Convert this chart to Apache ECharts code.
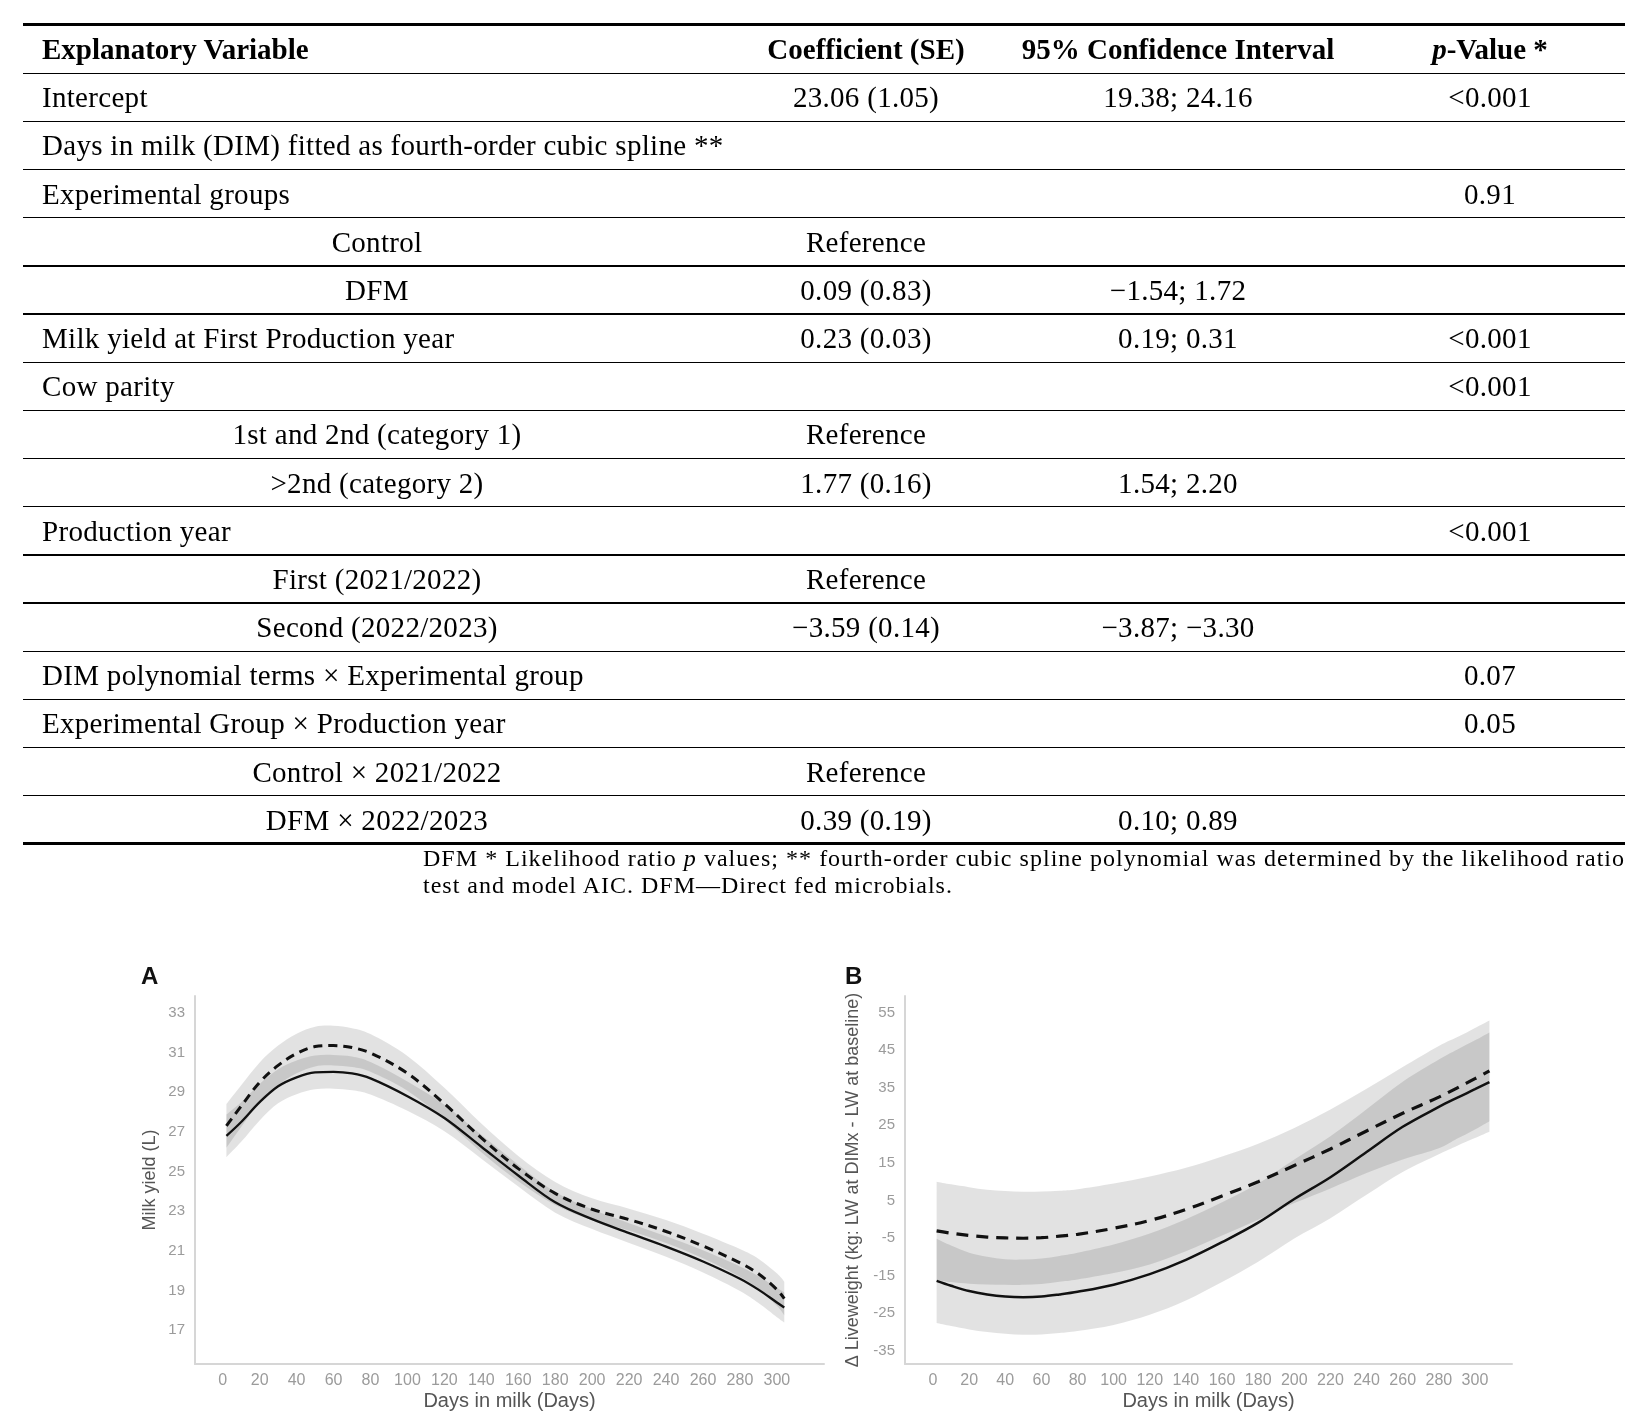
<!DOCTYPE html>
<html>
<head>
<meta charset="utf-8">
<title>Milk yield and liveweight</title>
<style>
  html, body { margin: 0; padding: 0; background: #fff; }
  body { width: 1644px; height: 1422px; position: relative; overflow: hidden; }
  #chart { position: absolute; left: 0; top: 0; width: 1644px; height: 1422px; }
  #table { position: absolute; left: 0; top: 0; width: 1644px; height: 900px; z-index: 2;
           font-family: "Liberation Serif", "Times New Roman", serif; font-size: 29px; color: #000; }
  .rule { position: absolute; left: 23px; width: 1602px; background: #000; }
  .cell { position: absolute; white-space: nowrap; line-height: 48px; height: 48px; letter-spacing: 0.3px; }
  .c { transform: translateX(-50%); }
  .hd { font-weight: bold; letter-spacing: 0; }
  .note { position: absolute; left: 423px; width: 1202px; font-size: 24px; line-height: 27px;
          letter-spacing: 1px; white-space: nowrap; }
  .note.j { text-align: justify; text-align-last: justify; white-space: normal; }
</style>
</head>
<body>
<div id="chart"></div>
<div id="table"></div>
<script src="https://cdn.jsdelivr.net/npm/echarts/dist/echarts.min.js"></script>
<script>
// ---- table text ----
var headers = ['Explanatory Variable', 'Coefficient (SE)', '95% Confidence Interval', '<i>p</i>-Value *'];
// [label, sub-row?, coefficient, confidence interval, p]
var tableRows = [
  ['Intercept', 0, '23.06 (1.05)', '19.38; 24.16', '<0.001'],
  ['Days in milk (DIM) fitted as fourth-order cubic spline **', 0, '', '', ''],
  ['Experimental groups', 0, '', '', '0.91'],
  ['Control', 1, 'Reference', '', ''],
  ['DFM', 1, '0.09 (0.83)', '\u22121.54; 1.72', ''],
  ['Milk yield at First Production year', 0, '0.23 (0.03)', '0.19; 0.31', '<0.001'],
  ['Cow parity', 0, '', '', '<0.001'],
  ['1st and 2nd (category 1)', 1, 'Reference', '', ''],
  ['>2nd (category 2)', 1, '1.77 (0.16)', '1.54; 2.20', ''],
  ['Production year', 0, '', '', '<0.001'],
  ['First (2021/2022)', 1, 'Reference', '', ''],
  ['Second (2022/2023)', 1, '\u22123.59 (0.14)', '\u22123.87; \u22123.30', ''],
  ['DIM polynomial terms \u00d7 Experimental group', 0, '', '', '0.07'],
  ['Experimental Group \u00d7 Production year', 0, '', '', '0.05'],
  ['Control \u00d7 2021/2022', 1, 'Reference', '', ''],
  ['DFM \u00d7 2022/2023', 1, '0.39 (0.19)', '0.10; 0.89', '']
];
var noteLine1 = 'DFM * Likelihood ratio <i>p</i> values; ** fourth-order cubic spline polynomial was determined by the likelihood ratio';
var noteLine2 = 'test and model AIC. DFM\u2014Direct fed microbials.';

// ---- chart A: milk yield ----
var daysA = [2, 10, 20, 30, 40, 50, 60, 70, 80, 100, 120, 140, 160, 180, 200, 220, 240, 260, 280, 290, 300, 304];
var controlA = [26.8, 27.5, 28.5, 29.3, 29.75, 30.0, 30.03, 29.95, 29.7, 28.8, 27.7, 26.25, 24.8, 23.45, 22.6, 21.9, 21.22, 20.47, 19.6, 19.05, 18.4, 18.15];
var controlLowA = [25.72, 26.5, 27.58, 28.44, 28.9, 29.15, 29.18, 29.1, 28.88, 28.06, 27.03, 25.65, 24.25, 22.93, 22.1, 21.4, 20.7, 19.91, 18.98, 18.37, 17.66, 17.39];
var controlHighA = [27.88, 28.5, 29.42, 30.16, 30.6, 30.85, 30.88, 30.8, 30.52, 29.54, 28.37, 26.85, 25.35, 23.97, 23.1, 22.4, 21.74, 21.03, 20.22, 19.73, 19.14, 18.91];
var dfmA = [27.3, 28.3, 29.5, 30.35, 30.95, 31.3, 31.35, 31.25, 30.98, 29.95, 28.42, 26.7, 25.15, 23.9, 23.1, 22.58, 21.98, 21.25, 20.4, 19.85, 19.05, 18.6];
var dfmLowA = [26.2, 27.25, 28.5, 29.35, 29.95, 30.3, 30.35, 30.27, 30.03, 29.07, 27.62, 25.98, 24.51, 23.32, 22.55, 22.03, 21.4, 20.63, 19.7, 19.09, 18.23, 17.75];
var dfmHighA = [28.4, 29.35, 30.5, 31.35, 31.95, 32.3, 32.35, 32.23, 31.93, 30.83, 29.22, 27.42, 25.79, 24.48, 23.65, 23.13, 22.56, 21.87, 21.1, 20.61, 19.87, 19.45];

// ---- chart B: change in liveweight ----
var daysB = [2, 10, 20, 30, 40, 50, 60, 70, 80, 100, 120, 140, 160, 180, 200, 220, 240, 260, 280, 290, 300, 308];
var controlB = [-16.4, -17.7, -19.1, -20.0, -20.55, -20.72, -20.55, -20.0, -19.3, -17.4, -14.6, -10.8, -6.1, -0.9, 5.4, 11.2, 17.9, 24.6, 29.9, 32.3, 34.6, 36.5];
var controlLowB = [-27.6, -28.4, -29.3, -30.0, -30.45, -30.72, -30.65, -30.25, -29.7, -28.1, -25.4, -21.6, -16.7, -11.3, -5.1, 0.3, 6.5, 12.6, 17.3, 19.5, 21.6, 23.3];
var controlHighB = [-5.2, -7.0, -8.9, -10.0, -10.65, -10.72, -10.45, -9.75, -8.9, -6.7, -3.8, 0.0, 4.5, 9.5, 15.9, 22.1, 29.3, 36.6, 42.5, 45.1, 47.6, 49.7];
var dfmB = [-3.1, -3.7, -4.3, -4.75, -4.95, -5.05, -4.9, -4.5, -4.0, -2.4, -0.3, 2.6, 6.2, 10.0, 14.3, 18.7, 23.5, 28.2, 32.5, 34.9, 37.4, 39.5];
var dfmLowB = [-16.2, -16.7, -17.15, -17.35, -17.4, -17.45, -17.2, -16.6, -16.0, -14.3, -12.0, -8.5, -4.3, -0.1, 4.3, 8.2, 12.3, 15.9, 18.9, 21.4, 23.9, 26.1];
var dfmHighB = [10.0, 9.3, 8.55, 7.85, 7.5, 7.35, 7.4, 7.6, 8.0, 9.5, 11.4, 13.7, 16.7, 20.1, 24.3, 29.2, 34.7, 40.5, 46.1, 48.4, 50.9, 52.9];

// ---- tick labels ----
var xTicks = [0, 20, 40, 60, 80, 100, 120, 140, 160, 180, 200, 220, 240, 260, 280, 300];
var yTicksA = [17, 19, 21, 23, 25, 27, 29, 31, 33];
var yTicksB = [-35, -25, -15, -5, 5, 15, 25, 35, 45, 55];

// ---------------- table ----------------
var tbl = document.getElementById('table');
var colX = [42, 866, 1178, 1490];
var subX = 377;
var headTop = 24.3, headBot = 73.3, rowH = 48.16;

function rule(y, h) {
  var d = document.createElement('div');
  d.className = 'rule';
  d.style.top = (y - h / 2) + 'px';
  d.style.height = h + 'px';
  tbl.appendChild(d);
}
function cell(html, x, top, centered, bold, isText) {
  var s = document.createElement('div');
  s.className = 'cell' + (centered ? ' c' : '') + (bold ? ' hd' : '');
  s.style.left = x + 'px';
  s.style.top = top + 'px';
  if (isText) s.textContent = html; else s.innerHTML = html;
  tbl.appendChild(s);
}

rule(headTop, 3);
headers.forEach(function (h, i) {
  cell(h, colX[i], headTop + 0.5, i > 0, true, false);
});
rule(headBot, 1.4);
tableRows.forEach(function (r, i) {
  var top = headBot + i * rowH;
  if (r[1]) cell(r[0], subX, top, true, false, true);
  else cell(r[0], colX[0], top, false, false, true);
  if (r[2]) cell(r[2], colX[1], top, true, false, true);
  if (r[3]) cell(r[3], colX[2], top, true, false, true);
  if (r[4]) cell(r[4], colX[3], top, true, false, true);
  var last = i === tableRows.length - 1;
  rule(top + rowH, last ? 3 : 1.4);
});
var n1 = document.createElement('div');
n1.className = 'note j';
n1.style.top = '845px';
n1.innerHTML = noteLine1;
tbl.appendChild(n1);
var n2 = document.createElement('div');
n2.className = 'note';
n2.style.top = '872px';
n2.textContent = noteLine2;
tbl.appendChild(n2);

// ---------------- charts ----------------
var FONT = '"Liberation Sans", Arial, sans-serif';
var BAND = 'rgba(0,0,0,0.115)';

function pairs(xs, ys) {
  return xs.map(function (x, i) { return [x, ys[i]]; });
}

// cardinal spline through pixel points, appended to an SVG path string
function splineTo(pts, t) {
  var d = '';
  for (var i = 0; i < pts.length - 1; i++) {
    var p0 = pts[i - 1] || pts[i], p1 = pts[i], p2 = pts[i + 1], p3 = pts[i + 2] || pts[i + 1];
    var c1x = p1[0] + (p2[0] - p0[0]) * t, c1y = p1[1] + (p2[1] - p0[1]) * t;
    var c2x = p2[0] - (p3[0] - p1[0]) * t, c2y = p2[1] - (p3[1] - p1[1]) * t;
    d += ' C' + c1x + ',' + c1y + ' ' + c2x + ',' + c2y + ' ' + p2[0] + ',' + p2[1];
  }
  return d;
}

// confidence band: one filled shape between low and high, placed with api.coord
function band(gi, xs, low, high) {
  return {
    type: 'custom', xAxisIndex: gi, yAxisIndex: gi, silent: true, z: 1,
    data: xs.map(function (x, i) { return [x, low[i], high[i]]; }),
    encode: { x: 0, y: [1, 2] },
    renderItem: function (params, api) {
      if (params.dataIndex !== 0) return null;
      var top = xs.map(function (x, i) { return api.coord([x, high[i]]); });
      var bot = xs.map(function (x, i) { return api.coord([x, low[i]]); }).reverse();
      var d = 'M' + top[0][0] + ',' + top[0][1] + splineTo(top, 1 / 6) +
              ' L' + bot[0][0] + ',' + bot[0][1] + splineTo(bot, 1 / 6) + ' Z';
      return { type: 'path', shape: { pathData: d }, style: { fill: BAND } };
    }
  };
}

function curve(gi, xs, ys, width, dash) {
  return {
    type: 'line', xAxisIndex: gi, yAxisIndex: gi, z: 3,
    data: pairs(xs, ys), symbol: 'none', smooth: 0.35, silent: true,
    lineStyle: { color: '#111', width: width, type: dash || 'solid' }
  };
}

function xAxis(gi, min, max) {
  return {
    type: 'value', gridIndex: gi, min: min, max: max,
    axisLine: { show: true, onZero: false, lineStyle: { color: '#d6d6d6', width: 2 } },
    axisTick: { show: false },
    splitLine: { show: false },
    axisLabel: { customValues: xTicks, color: '#9b9b9b', fontSize: 16, margin: 9, fontFamily: FONT },
    name: 'Days in milk (Days)', nameLocation: 'middle', nameGap: 27,
    nameTextStyle: { color: '#555', fontSize: 20, fontFamily: FONT }
  };
}

function yAxis(gi, min, max, ticks, name, gap) {
  return {
    type: 'value', gridIndex: gi, min: min, max: max,
    axisLine: { show: true, onZero: false, lineStyle: { color: '#d6d6d6', width: 2 } },
    axisTick: { show: false },
    splitLine: { show: false },
    axisLabel: { customValues: ticks, color: '#9b9b9b', fontSize: 15, margin: 10, fontFamily: FONT },
    name: name, nameLocation: 'middle', nameGap: gap,
    nameTextStyle: { color: '#555', fontSize: 18, fontFamily: FONT }
  };
}

var series = [
  band(0, daysA, controlLowA, controlHighA),
  band(0, daysA, dfmLowA, dfmHighA),
  curve(0, daysA, controlA, 2.3),
  curve(0, daysA, dfmA, 3, [9, 6]),
  band(1, daysB, controlLowB, controlHighB),
  band(1, daysB, dfmLowB, dfmHighB),
  curve(1, daysB, controlB, 2.5),
  curve(1, daysB, dfmB, 3.2, [12, 8])
];

var chart = echarts.init(document.getElementById('chart'), null, { renderer: 'canvas' });
chart.setOption({
  animation: false,
  backgroundColor: '#fff',
  textStyle: { fontFamily: FONT },
  grid: [
    { left: 195, top: 996, width: 629, height: 368 },
    { left: 905, top: 996, width: 607, height: 368 }
  ],
  xAxis: [xAxis(0, -15, 325.5), xAxis(1, -15.5, 320.5)],
  yAxis: [
    yAxis(0, 15.3, 33.85, yTicksA, 'Milk yield (L)', 36),
    yAxis(1, -38.5, 59.4, yTicksB, '\u0394 Liveweight (kg: LW at DIMx - LW at baseline)', 43)
  ],
  graphic: [
    { type: 'text', left: 141, top: 965, style: { text: 'A', font: 'bold 24px ' + FONT, fill: '#111' } },
    { type: 'text', left: 845, top: 965, style: { text: 'B', font: 'bold 24px ' + FONT, fill: '#111' } }
  ],
  series: series
});
</script>
</body>
</html>
